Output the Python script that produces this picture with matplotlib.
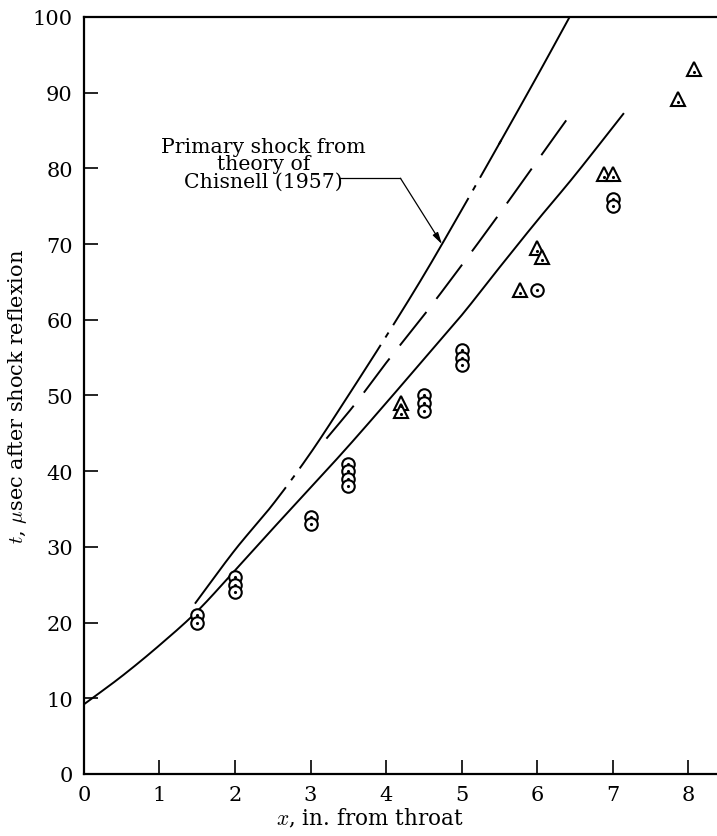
import matplotlib
matplotlib.use("Agg")
import matplotlib.pyplot as plt
import numpy as np

plt.rcParams['font.family'] = ['DejaVu Serif']
plt.rcParams['mathtext.fontset'] = 'cm'

# measured arrival times, circles
circ_x = [1.5, 1.5, 2, 2, 2, 3, 3, 3.5, 3.5, 3.5, 3.5, 4.5, 4.5, 4.5, 5, 5, 5, 6, 7, 7]
circ_t = [21, 20, 26, 25, 24, 34, 33, 41, 40, 39, 38, 50, 49, 48, 56, 55, 54, 64, 76, 75]

# measured arrival times, triangles
tri_x = [4.2, 4.2, 5.77, 6.0, 6.07, 6.88, 7.0, 7.87, 8.07]
tri_t = [49, 48, 64, 69.5, 68.3, 79.3, 79.3, 89.2, 93.1]

# lower solid curve
sol_x = [0, 0.5, 1.0, 1.5, 2.0, 2.5, 3.0, 3.5, 4.0, 4.5, 5.0, 5.5, 6.0, 6.5, 7.14]
sol_t = [9.2, 12.9, 17.0, 21.5, 26.9, 32.4, 37.8, 43.3, 49.0, 54.8, 60.6, 66.9, 73.1, 79.1, 87.2]

# dashed curve
dsh_x = [3.21, 3.6, 4.0, 4.5, 5.0, 5.5, 6.0, 6.46]
dsh_t = [44.3, 49.0, 54.3, 60.6, 67.2, 74.0, 81.0, 87.4]

# primary shock, Chisnell (1957)
chi_x = [1.47, 2.0, 2.5, 3.0, 3.5, 4.0, 4.5, 5.0, 5.5, 6.0, 6.44]
chi_t = [22.5, 29.6, 35.6, 42.4, 50.0, 57.8, 65.9, 74.5, 83.3, 92.2, 100.2]


def smooth(xs, ys, n=20):
    # Catmull-Rom through the read-off points
    p = np.column_stack([xs, ys]).astype(float)
    p = np.vstack([2 * p[0] - p[1], p, 2 * p[-1] - p[-2]])
    out = []
    s = np.linspace(0, 1, n, endpoint=False)[:, None]
    for i in range(1, len(p) - 2):
        p0, p1, p2, p3 = p[i - 1], p[i], p[i + 1], p[i + 2]
        seg = 0.5 * ((2 * p1) + (-p0 + p2) * s + (2 * p0 - 5 * p1 + 4 * p2 - p3) * s ** 2
                     + (-p0 + 3 * p1 - 3 * p2 + p3) * s ** 3)
        out.append(seg)
    out.append(p[-2][None, :])
    out = np.vstack(out)
    return out[:, 0], out[:, 1]


fig = plt.figure(figsize=(7.17, 8.37), dpi=100)
ax = fig.add_axes([0.117, 0.0741, 0.883, 0.9044])

lw = 1.4
sx, st = smooth(sol_x, sol_t)
ax.plot(sx, st, color='k', lw=lw)
dx, dt = smooth(dsh_x, dsh_t)
ax.plot(dx, dt, color='k', lw=lw, dashes=(22, 8.5))

cx, ct = smooth(chi_x, chi_t)
lo = cx <= 5.55
ax.plot(cx[lo], ct[lo], color='k', lw=lw, dashes=(76, 4.5, 3, 4.5))
hi = cx >= 5.5
ax.plot(cx[hi], ct[hi], color='k', lw=lw)

ms = 9
ax.plot(circ_x, circ_t, 'o', ms=ms, mfc='white', mec='k', mew=1.5, ls='none')
ax.plot(circ_x, circ_t, '.', ms=2.5, color='k', ls='none')
ax.plot(tri_x, tri_t, '^', ms=ms + 1, mfc='white', mec='k', mew=1.5, ls='none')
ax.plot(tri_x, np.array(tri_t) - 0.4, '.', ms=2.5, color='k', ls='none')

# label with leader line and arrow onto the Chisnell curve
ax.text(2.38, 80.6, 'Primary shock from\ntheory of\nChisnell (1957)', ha='center', va='center',
        fontsize=14.7, linespacing=0.92)
ax.plot([3.39, 4.19], [78.7, 78.7], color='k', lw=0.9)
ax.annotate('', xy=(4.74, np.interp(4.74, cx, ct)), xytext=(4.19, 78.7),
            arrowprops=dict(arrowstyle='-|>,head_length=0.7,head_width=0.18', color='k',
                            lw=0.9, shrinkA=0, shrinkB=0))

ax.set_xlim(0, 8.38)
ax.set_ylim(0, 100)
ax.set_xticks(range(0, 9))
ax.set_yticks(range(0, 101, 10))
ax.tick_params(direction='in', length=10, width=1.2, labelsize=15, pad=8,
               top=False, right=False)
ax.spines['right'].set_visible(False)
for s in ['left', 'bottom', 'top']:
    ax.spines[s].set_linewidth(1.6)

ax.set_xlabel(r'$x$, in. from throat', fontsize=15.5)
ax.xaxis.set_label_coords(0.452, -0.043)
ax.set_ylabel(r'$t$, $\mu$sec after shock reflexion', fontsize=15)
ax.yaxis.set_label_coords(-0.086, 0.5)

fig.savefig('out.png', dpi=100)
